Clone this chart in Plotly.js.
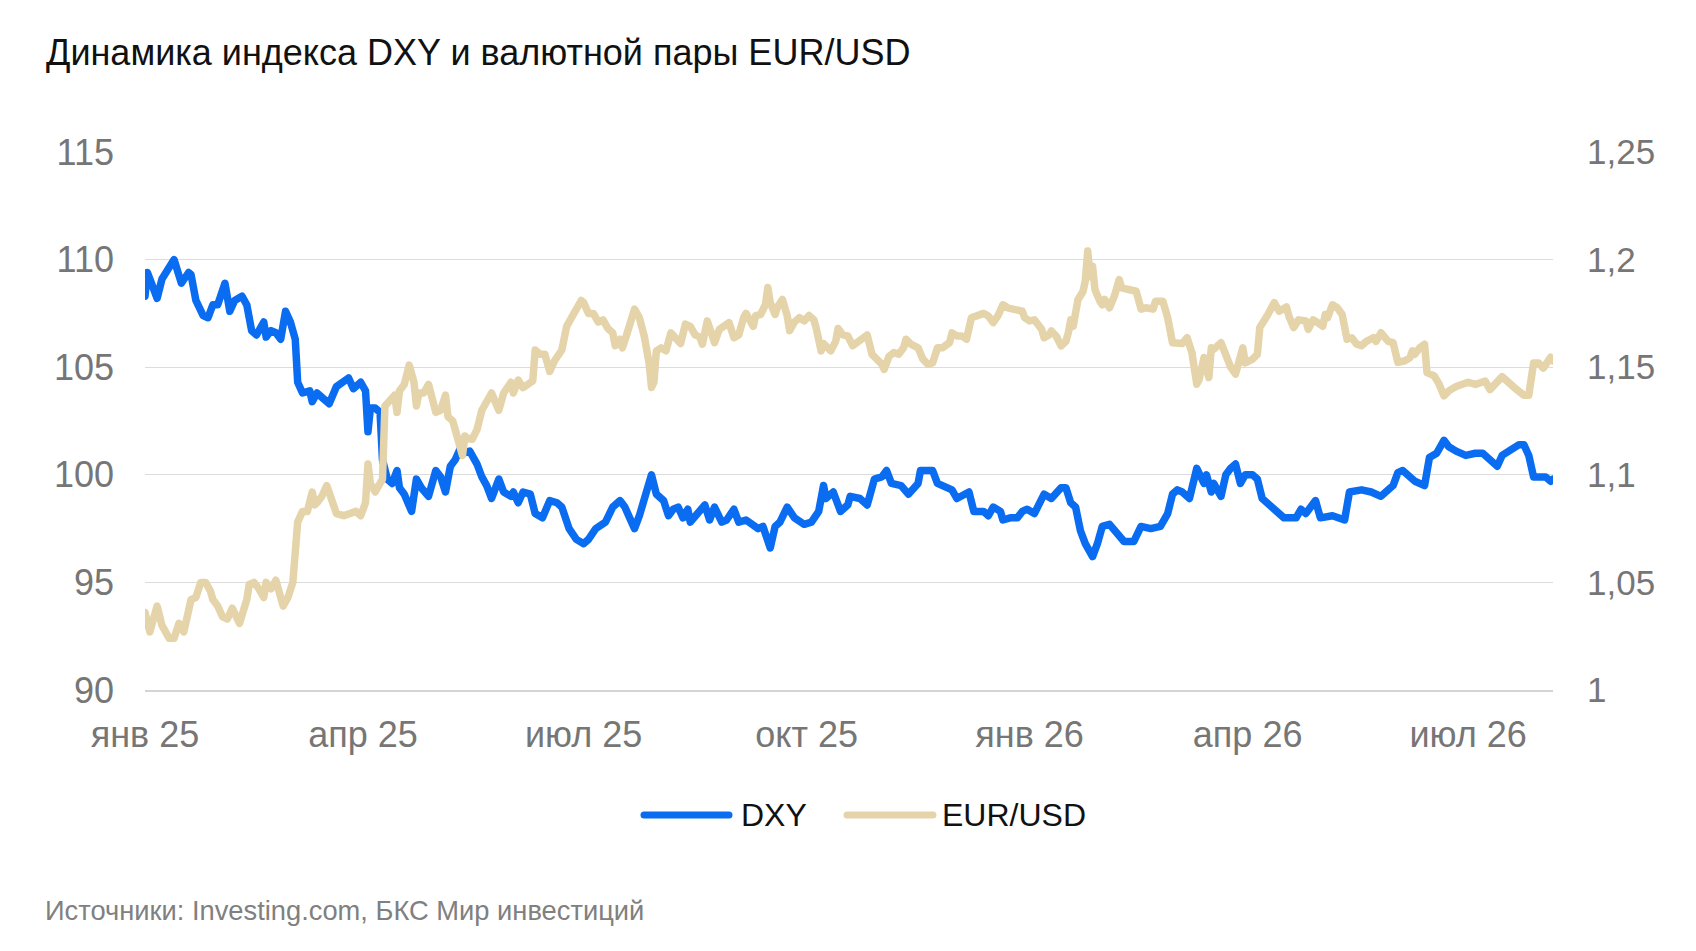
<!DOCTYPE html>
<html>
<head>
<meta charset="utf-8">
<script src="https://cdn.plot.ly/plotly-3.0.1.min.js"></script>
<style>
html,body{margin:0;padding:0;background:#fff;}
#chart{width:1696px;height:951px;}
.scatterlayer .js-line{stroke-linejoin:round !important;stroke-linecap:round !important;}
.shapelayer path{stroke-linecap:round !important;}
</style>
</head>
<body>
<div id="chart"></div>
<script>
// ---------- DATA ----------
const dxyDates = [
'2025-01-01','2025-01-02','2025-01-04','2025-01-06','2025-01-08','2025-01-10','2025-01-13','2025-01-16','2025-01-19','2025-01-20',
'2025-01-22','2025-01-25','2025-01-27','2025-01-29','2025-01-31','2025-02-03','2025-02-05','2025-02-07','2025-02-10','2025-02-12',
'2025-02-14','2025-02-16','2025-02-19','2025-02-20','2025-02-22','2025-02-24','2025-02-26','2025-02-28','2025-03-02','2025-03-04',
'2025-03-05','2025-03-07','2025-03-10','2025-03-11','2025-03-13','2025-03-15','2025-03-18','2025-03-21','2025-03-24','2025-03-26',
'2025-03-28','2025-03-31','2025-04-02','2025-04-03','2025-04-04','2025-04-06','2025-04-08','2025-04-09','2025-04-11','2025-04-13',
'2025-04-15','2025-04-16','2025-04-18','2025-04-21','2025-04-23','2025-04-25','2025-04-28','2025-05-01','2025-05-03','2025-05-05',
'2025-05-07','2025-05-09','2025-05-11','2025-05-12','2025-05-15','2025-05-18','2025-05-20','2025-05-22','2025-05-24','2025-05-27',
'2025-05-29','2025-06-01','2025-06-02','2025-06-04','2025-06-06','2025-06-09','2025-06-11','2025-06-14','2025-06-17','2025-06-20',
'2025-06-22','2025-06-25','2025-06-28','2025-07-01','2025-07-03','2025-07-06','2025-07-10','2025-07-13','2025-07-16','2025-07-18',
'2025-07-20','2025-07-22','2025-07-24','2025-07-27','2025-07-29','2025-07-31','2025-08-03','2025-08-05','2025-08-07','2025-08-09',
'2025-08-11','2025-08-13','2025-08-14','2025-08-17','2025-08-20','2025-08-22','2025-08-24','2025-08-27','2025-08-29','2025-09-01',
'2025-09-03','2025-09-06','2025-09-08','2025-09-11','2025-09-13','2025-09-16','2025-09-18','2025-09-20','2025-09-23','2025-09-26',
'2025-09-30','2025-10-03','2025-10-06','2025-10-08','2025-10-09','2025-10-12','2025-10-15','2025-10-18','2025-10-19','2025-10-23',
'2025-10-26','2025-10-29','2025-11-01','2025-11-03','2025-11-05','2025-11-09','2025-11-12','2025-11-15','2025-11-16','2025-11-17',
'2025-11-22','2025-11-24','2025-11-27','2025-11-30','2025-12-02','2025-12-04','2025-12-07','2025-12-09','2025-12-13','2025-12-15',
'2025-12-17','2025-12-20','2025-12-21','2025-12-24','2025-12-27','2025-12-29','2025-12-31','2026-01-03','2026-01-07','2026-01-10',
'2026-01-12','2026-01-14','2026-01-16','2026-01-18','2026-01-20','2026-01-22','2026-01-24','2026-01-27','2026-01-29','2026-01-31',
'2026-02-03','2026-02-06','2026-02-09','2026-02-13','2026-02-16','2026-02-20','2026-02-24','2026-02-27','2026-03-01','2026-03-03',
'2026-03-05','2026-03-08','2026-03-11','2026-03-14','2026-03-15','2026-03-17','2026-03-18','2026-03-21','2026-03-23','2026-03-25',
'2026-03-27','2026-03-29','2026-03-31','2026-04-03','2026-04-05','2026-04-07','2026-04-12','2026-04-16','2026-04-21','2026-04-23',
'2026-04-25','2026-04-29','2026-05-01','2026-05-06','2026-05-11','2026-05-13','2026-05-18','2026-05-22','2026-05-26','2026-05-29',
'2026-05-31','2026-06-02','2026-06-04','2026-06-09','2026-06-13','2026-06-15','2026-06-18','2026-06-21','2026-06-23','2026-06-26',
'2026-06-30','2026-07-04','2026-07-07','2026-07-10','2026-07-13','2026-07-15','2026-07-19','2026-07-22','2026-07-24','2026-07-26',
'2026-07-28','2026-07-31','2026-08-02','2026-08-04','2026-08-05'
];
const dxyValues = [
108.3,109.4,108.8,108.2,109.1,109.5,110.0,108.9,109.4,109.3,
108.1,107.4,107.3,107.9,107.9,108.9,107.6,108.1,108.3,107.9,
106.7,106.5,107.1,106.4,106.7,106.6,106.3,107.6,107.1,106.3,
104.3,103.8,103.9,103.4,103.8,103.6,103.3,104.1,104.3,104.5,
104.0,104.3,103.9,102.0,103.1,103.1,102.9,100.7,99.8,99.6,
100.2,99.4,99.1,98.3,99.8,99.4,99.0,100.2,99.9,99.2,
100.4,100.7,101.2,101.0,101.1,100.5,99.9,99.5,98.9,99.8,
99.2,99.0,99.2,98.7,99.2,99.1,98.2,98.0,98.8,98.7,
98.5,97.5,97.0,96.8,97.0,97.5,97.8,98.5,98.8,98.5,
98.0,97.5,98.1,99.2,100.0,99.1,98.8,98.1,98.4,98.5,
98.0,98.4,97.8,98.2,98.6,97.9,98.5,97.8,97.9,98.4,
97.8,97.9,97.7,97.5,97.6,96.6,97.6,97.8,98.5,98.0,
97.7,97.8,98.3,99.5,98.9,99.2,98.3,98.6,99.0,98.9,
98.6,99.8,99.9,100.2,99.6,99.5,99.1,99.5,99.6,100.2,
100.2,99.6,99.4,99.3,98.9,99.0,99.2,98.3,98.3,98.1,
98.5,98.3,97.9,98.0,98.0,98.3,98.4,98.2,99.1,98.9,
99.2,99.4,99.4,98.7,98.5,97.4,96.8,96.2,96.8,97.6,
97.7,97.3,96.9,96.9,97.6,97.5,97.6,98.2,99.1,99.3,
99.2,98.9,100.3,99.6,100.0,99.2,99.6,99.0,100.0,100.3,
100.5,99.6,100.0,100.0,99.8,98.9,98.4,98.0,98.0,98.4,
98.2,98.8,98.0,98.1,97.9,99.2,99.3,99.2,99.0,99.3,
99.5,100.1,100.2,99.7,99.5,100.8,101.0,101.6,101.3,101.1,
100.9,101.0,101.0,100.7,100.4,100.9,101.2,101.4,101.4,100.9,
99.9,99.9,99.9,99.7,99.8
];

const eurDates = [
'2025-01-01','2025-01-03','2025-01-06','2025-01-08','2025-01-11','2025-01-13','2025-01-15','2025-01-17','2025-01-20','2025-01-22',
'2025-01-24','2025-01-26','2025-01-28','2025-01-29','2025-01-31','2025-02-02','2025-02-04','2025-02-06','2025-02-09','2025-02-12',
'2025-02-13','2025-02-15','2025-02-17','2025-02-19','2025-02-20','2025-02-22','2025-02-24','2025-02-27','2025-03-01','2025-03-03',
'2025-03-04','2025-03-05','2025-03-07','2025-03-09','2025-03-11','2025-03-12','2025-03-13','2025-03-15','2025-03-17','2025-03-19',
'2025-03-21','2025-03-24','2025-03-26','2025-03-29','2025-03-31','2025-04-02','2025-04-03','2025-04-04','2025-04-06','2025-04-08',
'2025-04-09','2025-04-10','2025-04-12','2025-04-14','2025-04-15','2025-04-16','2025-04-18','2025-04-20','2025-04-22','2025-04-23',
'2025-04-24','2025-04-26','2025-04-28','2025-04-29','2025-05-01','2025-05-03','2025-05-05','2025-05-06','2025-05-08','2025-05-09',
'2025-05-11','2025-05-12','2025-05-13','2025-05-14','2025-05-16','2025-05-18','2025-05-20','2025-05-22','2025-05-24','2025-05-27',
'2025-05-29','2025-06-01','2025-06-02','2025-06-04','2025-06-06','2025-06-10','2025-06-11','2025-06-13','2025-06-15','2025-06-17',
'2025-06-19','2025-06-22','2025-06-24','2025-06-27','2025-06-30','2025-07-01','2025-07-03','2025-07-05','2025-07-07','2025-07-09',
'2025-07-11','2025-07-13','2025-07-14','2025-07-16','2025-07-17','2025-07-19','2025-07-22','2025-07-24','2025-07-26','2025-07-28',
'2025-07-29','2025-07-30','2025-07-31','2025-08-02','2025-08-04','2025-08-06','2025-08-08','2025-08-10','2025-08-12','2025-08-14',
'2025-08-16','2025-08-18','2025-08-19','2025-08-21','2025-08-23','2025-08-24','2025-08-26','2025-08-28','2025-08-30','2025-09-01',
'2025-09-03','2025-09-05','2025-09-06','2025-09-09','2025-09-10','2025-09-12','2025-09-14','2025-09-15','2025-09-16','2025-09-18',
'2025-09-19','2025-09-21','2025-09-23','2025-09-24','2025-09-26','2025-09-28','2025-09-30','2025-10-02','2025-10-04','2025-10-05',
'2025-10-07','2025-10-08','2025-10-10','2025-10-11','2025-10-13','2025-10-14','2025-10-16','2025-10-18','2025-10-20','2025-10-22',
'2025-10-26','2025-10-28','2025-10-31','2025-11-01','2025-11-02','2025-11-04','2025-11-06','2025-11-08','2025-11-10','2025-11-11',
'2025-11-13','2025-11-16','2025-11-18','2025-11-20','2025-11-22','2025-11-24','2025-11-26','2025-11-29','2025-11-30','2025-12-02',
'2025-12-04','2025-12-06','2025-12-08','2025-12-10','2025-12-13','2025-12-15','2025-12-17','2025-12-19','2025-12-21','2025-12-23',
'2025-12-27','2025-12-29','2025-12-30','2026-01-01','2026-01-03','2026-01-06','2026-01-07','2026-01-09','2026-01-10','2026-01-12',
'2026-01-14','2026-01-16','2026-01-17','2026-01-18','2026-01-19','2026-01-21','2026-01-23','2026-01-24','2026-01-25','2026-01-26',
'2026-01-27','2026-01-28','2026-01-30','2026-01-31','2026-02-01','2026-02-03','2026-02-05','2026-02-07','2026-02-08','2026-02-11',
'2026-02-14','2026-02-16','2026-02-18','2026-02-21','2026-02-22','2026-02-25','2026-02-27','2026-03-01','2026-03-03','2026-03-05',
'2026-03-07','2026-03-09','2026-03-11','2026-03-12','2026-03-14','2026-03-16','2026-03-17','2026-03-18','2026-03-21','2026-03-23',
'2026-03-25','2026-03-27','2026-03-29','2026-03-30','2026-03-31','2026-04-03','2026-04-05','2026-04-06','2026-04-09','2026-04-11',
'2026-04-12','2026-04-14','2026-04-17','2026-04-18','2026-04-20','2026-04-22','2026-04-25','2026-04-26','2026-04-28','2026-04-30',
'2026-05-02','2026-05-03','2026-05-04','2026-05-06','2026-05-08','2026-05-10','2026-05-12','2026-05-14','2026-05-16','2026-05-18',
'2026-05-20','2026-05-23','2026-05-24','2026-05-26','2026-05-27','2026-05-29','2026-05-31','2026-06-02','2026-06-05','2026-06-07',
'2026-06-08','2026-06-09','2026-06-11','2026-06-13','2026-06-14','2026-06-17','2026-06-19','2026-06-21','2026-06-23','2026-06-26',
'2026-07-01','2026-07-04','2026-07-08','2026-07-10','2026-07-15','2026-07-18','2026-07-21','2026-07-24','2026-07-26','2026-07-28',
'2026-07-30','2026-08-01','2026-08-04','2026-08-05'
];
const eurValues = [
1.036,1.027,1.039,1.030,1.024,1.024,1.031,1.027,1.042,1.043,
1.050,1.050,1.046,1.042,1.039,1.034,1.033,1.038,1.031,1.042,
1.049,1.050,1.047,1.043,1.050,1.047,1.051,1.039,1.043,1.050,
1.064,1.078,1.083,1.083,1.092,1.086,1.087,1.090,1.095,1.087,
1.082,1.081,1.082,1.083,1.081,1.087,1.105,1.096,1.092,1.096,
1.098,1.132,1.135,1.137,1.129,1.139,1.142,1.151,1.143,1.132,
1.138,1.138,1.142,1.137,1.129,1.130,1.137,1.127,1.125,1.121,
1.113,1.109,1.118,1.117,1.1165,1.121,1.130,1.134,1.138,1.130,
1.138,1.143,1.138,1.144,1.1405,1.1436,1.158,1.156,1.156,1.148,
1.153,1.158,1.169,1.175,1.181,1.180,1.175,1.175,1.171,1.172,
1.168,1.166,1.160,1.163,1.159,1.166,1.177,1.173,1.1645,1.152,
1.1406,1.143,1.1576,1.159,1.1576,1.166,1.163,1.161,1.170,1.169,
1.165,1.164,1.1607,1.1715,1.165,1.1614,1.1676,1.169,1.1707,1.1637,
1.165,1.173,1.175,1.169,1.174,1.1745,1.179,1.187,1.180,1.1745,
1.178,1.1815,1.174,1.167,1.171,1.173,1.1715,1.174,1.172,1.168,
1.1576,1.161,1.159,1.1576,1.162,1.168,1.165,1.1645,1.160,1.162,
1.165,1.156,1.153,1.1514,1.149,1.155,1.1568,1.156,1.159,1.163,
1.1607,1.159,1.1537,1.1514,1.152,1.159,1.159,1.1614,1.166,1.1645,
1.1645,1.163,1.173,1.1738,1.175,1.1738,1.1707,1.174,1.179,1.1776,
1.177,1.176,1.173,1.1715,1.172,1.1676,1.1637,1.165,1.1668,1.1645,
1.1599,1.162,1.166,1.172,1.169,1.1815,1.185,1.190,1.204,1.192,
1.197,1.186,1.1807,1.179,1.1815,1.1776,1.183,1.1907,1.1869,1.186,
1.1853,1.177,1.1776,1.177,1.1807,1.1807,1.173,1.1614,1.1614,1.161,
1.1637,1.1568,1.1421,1.1444,1.1545,1.1452,1.159,1.1583,1.1614,1.1553,
1.150,1.1468,1.155,1.159,1.152,1.1537,1.156,1.1684,1.1738,1.178,
1.180,1.176,1.178,1.1738,1.1684,1.172,1.1715,1.1676,1.172,1.1707,
1.169,1.1745,1.173,1.179,1.1776,1.1745,1.163,1.1637,1.1607,1.160,
1.162,1.1637,1.162,1.166,1.165,1.162,1.1614,1.1522,1.153,1.1545,
1.1576,1.156,1.159,1.1607,1.1475,1.146,1.1421,1.1367,1.139,1.141,
1.143,1.142,1.1436,1.1396,1.1456,1.142,1.1396,1.137,1.137,1.152,
1.152,1.1496,1.1546,1.153
];

const xTickVals = ['2025-01-01','2025-04-01','2025-07-01','2025-10-01','2026-01-01','2026-04-01','2026-07-01'];
const xTickText = ['янв 25','апр 25','июл 25','окт 25','янв 26','апр 26','июл 26'];
const dxyTickVals = [90,95,100,105,110,115];
const dxyTickText = ['90','95','100','105','110','115'];
const eurTickVals = [1,1.05,1.1,1.15,1.2,1.25];
const eurTickText = ['1','1,05','1,1','1,15','1,2','1,25'];
const seriesNames = ['DXY','EUR/USD'];
const titleText = 'Динамика индекса DXY и валютной пары EUR/USD';
const sourceText = 'Источники: Investing.com, БКС Мир инвестиций';

// ---------- STYLE / LAYOUT ----------
const W = 1696, H = 951;
const M = {l:145, r:143, t:152, b:261};
const FONT = 'Liberation Sans, Arial, Helvetica, sans-serif';
const BLUE = '#0a6cf0', BEIGE = '#e5d4a9';
const TICK = '#767676';
const pw = W - M.l - M.r, ph = H - M.t - M.b;
const px = x => (x - M.l) / pw;
const py = y => (H - M.b - y) / ph;

const traces = [
  {x: dxyDates, y: dxyValues, name: seriesNames[0], type:'scatter', mode:'lines',
   line:{color:BLUE, width:7.5}, yaxis:'y', hoverinfo:'skip'},
  {x: eurDates, y: eurValues, name: seriesNames[1], type:'scatter', mode:'lines',
   line:{color:BEIGE, width:7.5}, yaxis:'y2', hoverinfo:'skip'}
];

const legendY = 815;
const layout = {
  width: W, height: H, margin: M,
  paper_bgcolor:'#ffffff', plot_bgcolor:'#ffffff',
  showlegend:false,
  font:{family:FONT},
  title:{text:titleText, x:46/W, xref:'container', xanchor:'left', y:1-52/H, yref:'container', yanchor:'middle',
         font:{family:FONT, size:36, color:'#111111'}},
  xaxis:{type:'date', range:['2025-01-01','2026-08-05'], tickmode:'array', tickvals:xTickVals, ticktext:xTickText,
         tickfont:{family:FONT, size:36, color:TICK}, showgrid:false, zeroline:false,
         showline:true, linecolor:'#d4d4d4', linewidth:2, ticks:'', ticklabelstandoff:12, fixedrange:true},
  yaxis:{range:[90,115], tickmode:'array', tickvals:dxyTickVals, ticktext:dxyTickText,
         tickfont:{family:FONT, size:36, color:TICK}, showgrid:true, gridcolor:'#dcdcdc', gridwidth:1,
         zeroline:false, showline:false, ticks:'', ticklabelstandoff:30, fixedrange:true},
  yaxis2:{range:[1,1.25], overlaying:'y', side:'right', tickmode:'array', tickvals:eurTickVals, ticktext:eurTickText,
         tickfont:{family:FONT, size:35, color:TICK}, showgrid:false, zeroline:false, showline:false,
         ticks:'', ticklabelstandoff:33, fixedrange:true},
  shapes:[
    {type:'line', xref:'paper', yref:'paper', x0:px(644), x1:px(729), y0:py(legendY), y1:py(legendY),
     line:{color:BLUE, width:7}},
    {type:'line', xref:'paper', yref:'paper', x0:px(847), x1:px(933), y0:py(legendY), y1:py(legendY),
     line:{color:BEIGE, width:7}}
  ],
  annotations:[
    {text:seriesNames[0], xref:'paper', yref:'paper', x:px(739), y:py(legendY), xanchor:'left', yanchor:'middle',
     showarrow:false, font:{family:FONT, size:32, color:'#111111'}},
    {text:seriesNames[1], xref:'paper', yref:'paper', x:px(940), y:py(legendY), xanchor:'left', yanchor:'middle',
     showarrow:false, font:{family:FONT, size:32, color:'#111111'}},
    {text:sourceText, xref:'paper', yref:'paper', x:px(43), y:py(910), xanchor:'left', yanchor:'middle',
     showarrow:false, font:{family:FONT, size:27.3, color:'#808080'}}
  ]
};

Plotly.newPlot('chart', traces, layout, {staticPlot:true, displayModeBar:false});
</script>
</body>
</html>
